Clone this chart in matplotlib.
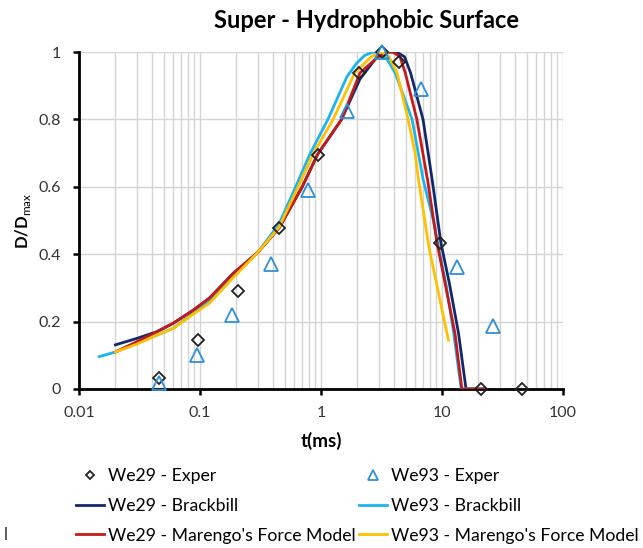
import matplotlib
matplotlib.use("Agg")
import matplotlib.pyplot as plt
from matplotlib import ticker

plt.rcParams["font.family"] = ["Lato", "DejaVu Sans"]
plt.rcParams["mathtext.fontset"] = "custom"
plt.rcParams["mathtext.rm"] = "Lato"
plt.rcParams["mathtext.bf"] = "Lato:bold"

# experiments
we29_exp_t = [0.046, 0.097, 0.206, 0.45, 0.95, 2.06, 3.17, 4.43, 9.6, 21.0, 45.8]
we29_exp_d = [0.032, 0.145, 0.29, 0.478, 0.694, 0.937, 1.0, 0.971, 0.433, 0.0, 0.0]
we93_exp_t = [0.046, 0.094, 0.185, 0.386, 0.78, 1.63, 3.2, 6.67, 13.4, 26.2]
we93_exp_d = [0.018, 0.10, 0.22, 0.371, 0.59, 0.826, 1.0, 0.889, 0.363, 0.187]

# simulations
we29_brack_t = [0.02, 0.03, 0.044, 0.06, 0.088, 0.12, 0.188, 0.3, 0.45, 0.7, 0.94, 1.48, 2.1,
                2.97, 3.5, 4.2, 4.9, 5.5, 6.97, 8.3, 9.8, 11.5, 13.7, 15.8, 22.0]
we29_brack_d = [0.131, 0.15, 0.17, 0.195, 0.234, 0.27, 0.343, 0.405, 0.478, 0.6, 0.697, 0.80, 0.92,
                0.99, 1.0, 1.0, 0.986, 0.938, 0.80, 0.62, 0.433, 0.314, 0.165, 0.0, 0.0]

we93_brack_t = [0.0147, 0.02, 0.03, 0.044, 0.06, 0.088, 0.12, 0.188, 0.3, 0.45, 0.6, 0.81, 1.14,
                1.63, 1.95, 2.3, 2.7, 3.1, 3.5, 4.1, 5.66, 7.0, 8.5, 9.6, 10.8, 12.5, 14.4, 22.0]
we93_brack_d = [0.096, 0.11, 0.135, 0.16, 0.18, 0.225, 0.26, 0.335, 0.405, 0.49, 0.59, 0.697, 0.80,
                0.925, 0.965, 0.99, 1.0, 0.995, 0.98, 0.938, 0.80, 0.62, 0.5, 0.4, 0.31, 0.165, 0.0, 0.0]

we29_mar_t = [0.02, 0.03, 0.044, 0.06, 0.088, 0.12, 0.188, 0.3, 0.45, 0.7, 0.94, 1.48, 2.1, 2.97,
              3.5, 3.9, 4.5, 4.97, 6.2, 7.6, 9.1, 10.0, 10.6, 12.8, 14.6, 22.0]
we29_mar_d = [0.11, 0.14, 0.17, 0.195, 0.234, 0.27, 0.343, 0.405, 0.478, 0.6, 0.697, 0.80, 0.938,
              0.986, 1.0, 1.0, 0.986, 0.938, 0.80, 0.62, 0.433, 0.36, 0.314, 0.165, 0.0, 0.0]

we93_mar_t = [0.02, 0.03, 0.044, 0.06, 0.088, 0.12, 0.188, 0.3, 0.45, 0.6, 0.86, 1.26, 1.9, 2.6,
              3.16, 3.65, 4.25, 5.25, 6.0, 6.4, 7.8, 9.0, 10.2, 11.3]
we93_mar_d = [0.11, 0.133, 0.16, 0.18, 0.222, 0.255, 0.33, 0.405, 0.48, 0.575, 0.697, 0.80, 0.938,
              0.986, 1.0, 0.986, 0.938, 0.80, 0.70, 0.62, 0.42, 0.314, 0.22, 0.145]

x_ticks = [0.01, 0.1, 1, 10, 100]
x_tick_labels = ["0.01", "0.1", "1", "10", "100"]
y_ticks = [0, 0.2, 0.4, 0.6, 0.8, 1.0]
y_tick_labels = ["0", "0.2", "0.4", "0.6", "0.8", "1"]

fig = plt.figure(figsize=(6.43, 5.48), dpi=100)
ax = fig.add_axes([79 / 643, 1 - 389 / 548, (563 - 79) / 643, (389 - 52) / 548])

ax.set_xscale("log")
ax.set_xlim(0.01, 100)
ax.set_ylim(0, 1)

ax.grid(which="both", axis="x", color="#d4d4d4", lw=1)
ax.grid(which="major", axis="y", color="#d4d4d4", lw=1)
ax.set_axisbelow(True)

ax.spines["top"].set_visible(False)
ax.spines["right"].set_visible(False)
ax.spines["left"].set_linewidth(2)
ax.spines["bottom"].set_linewidth(2)

ax.set_xticks(x_ticks)
ax.set_xticklabels(x_tick_labels)
ax.set_yticks(y_ticks)
ax.set_yticklabels(y_tick_labels)
ax.xaxis.set_minor_locator(ticker.LogLocator(base=10, subs=range(2, 10)))
ax.xaxis.set_minor_formatter(ticker.NullFormatter())
ax.tick_params(axis="x", which="minor", length=0)
ax.tick_params(axis="x", which="major", length=4, width=1.8, pad=8, labelsize=11.5, colors="black")
ax.tick_params(axis="y", which="major", length=4, width=1.8, pad=9, labelsize=11.5, colors="black")
for lab in ax.get_xticklabels() + ax.get_yticklabels():
    lab.set_color("#333333")

lw = 2.0
h_nb, = ax.plot(we29_brack_t, we29_brack_d, color="#12286b", lw=lw, zorder=3,
                label="We29 - Brackbill")
h_cb, = ax.plot(we93_brack_t, we93_brack_d, color="#1cb4ee", lw=lw, zorder=3,
                label="We93 - Brackbill")
h_rm, = ax.plot(we29_mar_t, we29_mar_d, color="#c41a1a", lw=lw, zorder=4,
                label="We29 - Marengo's Force Model")
h_ym, = ax.plot(we93_mar_t, we93_mar_d, color="#ffc000", lw=lw, zorder=4,
                label="We93 - Marengo's Force Model")
h_de, = ax.plot(we29_exp_t, we29_exp_d, ls="none", marker="D", ms=6, mfc="none",
                mec="#222222", mew=1.3, zorder=6, clip_on=False, label="We29 - Exper")
h_te, = ax.plot(we93_exp_t, we93_exp_d, ls="none", marker="^", ms=10, mfc="none",
                mec="#2e8fd8", mew=1.3, zorder=6, clip_on=False, label="We93 - Exper")

ax.set_xlabel("t(ms)", fontsize=13.5, fontweight="bold", labelpad=9)
ax.set_ylabel(r"D/D$_{\mathrm{max}}$", fontsize=12, fontweight="bold", labelpad=4)

fig.text(367 / 643, 1 - 20 / 548, "Super - Hydrophobic Surface", ha="center", va="center",
         fontsize=17, fontweight="bold")

fig.legend(handles=[h_de, h_nb, h_rm, h_te, h_cb, h_ym], ncol=2, frameon=False,
           loc="upper left", bbox_to_anchor=(76 / 643, 1 - 468 / 548),
           borderaxespad=0, borderpad=0, fontsize=12.7, handlelength=1.6,
           handletextpad=0.2, columnspacing=0.2, labelspacing=0.78, markerscale=0.75)

fig.text(4 / 643, 1 - 535 / 548, "l", ha="left", va="center", fontsize=12, color="#333333")

fig.savefig("out.png", dpi=100)
